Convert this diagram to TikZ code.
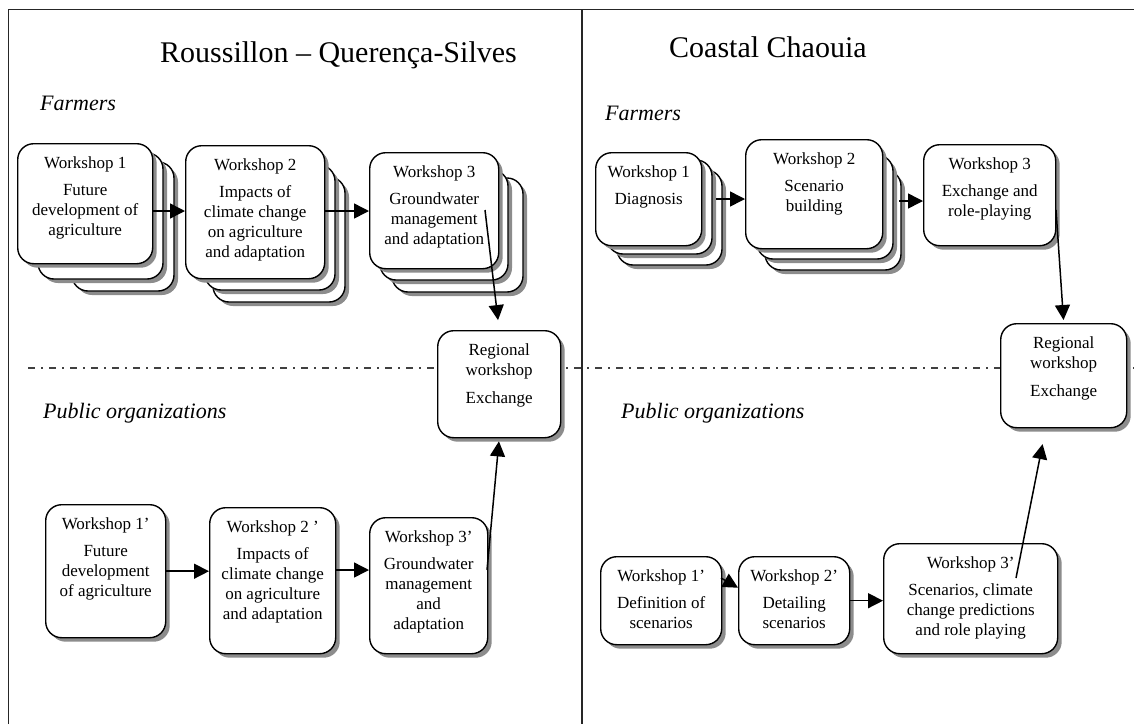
\documentclass[tikz,border=0pt]{standalone}
\usepackage{fontspec}
\setmainfont{Liberation Serif}
\usetikzlibrary{arrows.meta,shadows}
\tikzset{
  boxshadow/.style={drop shadow={shadow xshift=4pt,shadow yshift=-4pt,fill=black!45,opacity=1}},
  backbox/.style={draw=black,line width=1.4pt,fill=white,rounded corners=16pt,boxshadow},
  wbox/.style={draw=black,line width=1.4pt,fill=white,rounded corners=16pt,inner sep=0pt,boxshadow},
  flow/.style={line width=1.5pt,-{Triangle[length=15pt,width=15pt]}},
  framerule/.style={line width=1.4pt,draw=black!85},
  seprule/.style={line width=1.3pt,draw=black!75,dash pattern=on 7pt off 6pt on 2pt off 6pt},
  titletext/.style={font=\fontsize{30}{34}\selectfont,anchor=base west,inner sep=0pt},
  grouptext/.style={font=\fontsize{22}{26}\selectfont\itshape,anchor=base west,inner sep=0pt},
}
\newcommand{\wsbox}[6]{%
  \pgfmathsetmacro\wsw{#4-#2}\pgfmathsetmacro\wsh{#5-#3}%
  \node[wbox,anchor=north west] (#1) at (#2,#3)
   {\begin{minipage}[c][\wsh pt][t]{\wsw pt}\centering\fontsize{17}{20}\selectfont\rule{0pt}{25pt}#6\end{minipage}};}
\newcommand{\stackbox}[4]{\draw[backbox] (#1,#2) rectangle (#3,#4);}
\begin{document}
\begin{tikzpicture}[x=1pt,y=-1pt]
\useasboundingbox (0,0) rectangle (1134,724);
% frame
\draw[framerule] (8.7,724) -- (8.7,9.3) -- (1134,9.3);
\draw[framerule] (582,9.3) -- (582,724);
\draw[seprule] (28,368) -- (1134,368);
% titles
\node[titletext] (t1) at (160,62) {Roussillon – Querença-Silves};
\node[titletext] (t2) at (669,57) {Coastal Chaouia};
\node[grouptext] (g1) at (40,110) {Farmers};
\node[grouptext] (g2) at (605,120) {Farmers};
\node[grouptext] (g3) at (43,418) {Public organizations};
\node[grouptext] (g4) at (621,418) {Public organizations};
% left farmers
\stackbox{72}{162}{174}{291}
\stackbox{38}{153}{163}{279}
\wsbox{W1L}{17}{143}{152}{263}{Workshop 1\\[7pt]Future\\development of\\agriculture}
\stackbox{213}{177}{345}{302}
\stackbox{205}{165}{335}{290}
\wsbox{W2L}{185}{145}{324}{278}{Workshop 2\\[7pt]Impacts of\\climate change\\on agriculture\\and adaptation}
\stackbox{392}{178}{523}{292}
\stackbox{380}{170}{508}{280}
\wsbox{W3L}{369}{152}{498}{268}{Workshop 3\\[7pt]Groundwater\\management\\and adaptation}
\wsbox{RL}{437}{330}{560}{437}{Regional\\workshop\\[8pt]Exchange}
% left public
\wsbox{P1L}{45}{504}{165}{637}{Workshop 1’\\[7pt]Future\\development\\of agriculture}
\wsbox{P2L}{209}{507}{335}{653}{Workshop 2 ’\\[7pt]Impacts of\\climate change\\on agriculture\\and adaptation}
\wsbox{P3L}{369}{517}{487}{653}{Workshop 3’\\[7pt]Groundwater\\management\\and\\adaptation}
% right farmers
\stackbox{617}{170}{722}{265}
\stackbox{607}{160}{712}{254}
\wsbox{W1R}{595}{152}{701}{245}{Workshop 1\\[7pt]Diagnosis}
\stackbox{765}{170}{901}{270}
\stackbox{757}{155}{893}{259}
\wsbox{W2R}{745}{139}{882}{248}{Workshop 2\\[7pt]Scenario\\building}
\wsbox{W3R}{923}{144}{1055}{245}{Workshop 3\\[7pt]Exchange and\\role-playing}
\wsbox{RR}{1000}{323}{1126}{427}{Regional\\workshop\\[8pt]Exchange}
% right public
\wsbox{P1R}{600}{556}{721}{644}{Workshop 1’\\[7pt]Definition of\\scenarios}
\wsbox{P2R}{738}{556}{849}{644}{Workshop 2’\\[7pt]Detailing\\scenarios}
\wsbox{P3R}{883}{543}{1057}{653}{Workshop 3’\\[7pt]Scenarios, climate\\change predictions\\and role playing}
% connectors, left
\coordinate (sL12) at (152,211);
\coordinate (sL23) at (324,211);
\coordinate (sL3R) at (485,210);
\coordinate (sPL23) at (335,570);
\coordinate (sPL3R) at (487,570);
\draw[flow] (sL12) -- (W2L.west |- sL12);
\draw[flow] (sL23) -- (W3L.west |- sL23);
\draw[flow,shorten >=10pt] (sL3R) -- (RL.north);
\draw[flow] (P1L.east) -- (P2L.west |- P1L.east);
\draw[flow] (sPL23) -- (P3L.west |- sPL23);
\draw[flow,shorten >=3pt] (sPL3R) -- (RL.south);
% connectors, right
\coordinate (sR12) at (716,199);
\coordinate (sR23) at (899,201);
\coordinate (sR3R) at (1056,210);
\coordinate (sRP12) at (721,578);
\coordinate (sRP3R) at (1016,578);
\draw[flow] (sR12) -- (W2R.west |- sR12);
\draw[flow] (sR23) -- (W3R.west |- sR23);
\draw[flow,shorten >=3pt] (sR3R) -- (RR.north);
\draw[flow] (sRP12) -- ([yshift=13pt]P2R.west);
\draw[flow] (P2R.east) -- (P3R.west |- P2R.east);
\draw[flow,shorten >=16pt] (sRP3R) -- ([xshift=-18pt]RR.south);
\end{tikzpicture}
\end{document}
